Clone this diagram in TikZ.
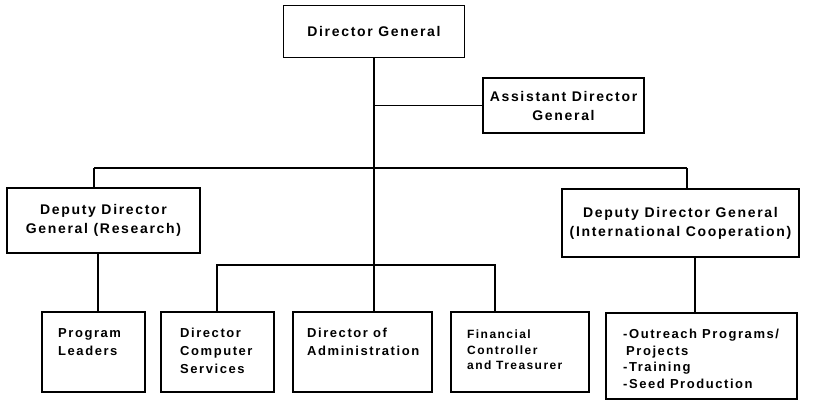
\documentclass[tikz,border=0pt]{standalone}
\usepackage{fontspec}
\setmainfont{Liberation Sans}[LetterSpace=12]
\begin{document}
\begin{tikzpicture}[x=1pt,y=-1pt,
  box/.style={draw, line width=1.3pt, rectangle, inner sep=0pt},
  wire/.style={line width=1.3pt},
  big/.style={font=\bfseries\fontsize{14}{19}\selectfont, align=center},
  lbl/.style={font=\bfseries\fontsize{13}{18}\selectfont, align=left, inner sep=0pt, anchor=north west},
  small/.style={font=\bfseries\fontsize{12}{15.5}\selectfont, align=left, inner sep=0pt, anchor=north west}]
\useasboundingbox (0,0) rectangle (816,409);
% top boxes
\node[box, big, minimum width=181pt, minimum height=52pt] (dg) at (374,31.5) {Director General};
\node[box, big, minimum width=161pt, minimum height=55pt] (adg) at (563.5,105.5) {Assistant Director\\General};
\node[box, big, minimum width=193pt, minimum height=65pt] (ddgr) at (103.5,220.5) {Deputy Director\\General (Research)};
\node[box, big, minimum width=237pt, minimum height=68pt] (ddgi) at (680.5,223) {Deputy Director General\\(International Cooperation)};
% bottom boxes
\node[box, minimum width=103pt, minimum height=80pt] (pl) at (93.5,352) {};
\node[box, minimum width=113pt, minimum height=80pt] (dcs) at (217.5,352) {};
\node[box, minimum width=139pt, minimum height=80pt] (doa) at (362.5,352) {};
\node[box, minimum width=138pt, minimum height=80pt] (fin) at (520,352) {};
\node[box, minimum width=191pt, minimum height=86pt] (out) at (701.5,356) {};
% labels in bottom boxes
\node[lbl] (plT) at (58,328) {Program\\Leaders};
\node[lbl] (dcsT) at (180,328) {Director\\Computer\\Services};
\node[lbl] (doaT) at (307,328) {Director of\\Administration};
\node[small] (finT) at (467,330) {Financial\\Controller\\and Treasurer};
\node[lbl, font=\bfseries\fontsize{13}{16.5}\selectfont] (outT) at (623,329) {-Outreach Programs/\\\hspace{3pt}Projects\\-Training\\-Seed Production};
% junction coordinates
\coordinate (jr) at (94,168);
\coordinate (ji) at (687,168);
\coordinate (jc) at (217,265);
\coordinate (jf) at (495,265);
\coordinate (jp) at (98,253);
\coordinate (jo) at (695,257);
% connectors
\draw[wire] (dg.south) -- (dg.south |- doa.north);
\draw[wire] (dg.south |- adg.west) -- (adg.west);
\draw[wire] (jr) -- (ji);
\draw[wire] (jr) -- (jr |- ddgr.north);
\draw[wire] (ji) -- (ji |- ddgi.north);
\draw[wire] (jp) -- (jp |- pl.north);
\draw[wire] (jc |- dcs.north) -- (jc) -- (jf) -- (jf |- fin.north);
\draw[wire] (jo) -- (jo |- out.north);
\end{tikzpicture}
\end{document}
